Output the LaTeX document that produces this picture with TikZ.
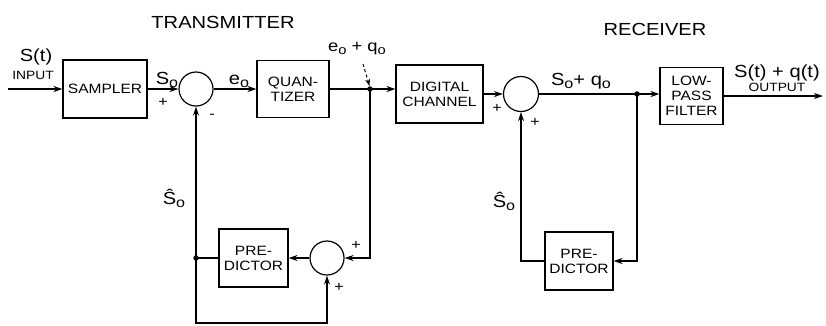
\documentclass[tikz,border=0pt]{standalone}
\usepackage{fontspec}
\usepackage{graphicx}
\setmainfont{Liberation Sans}[FakeStretch=1.15]
\usetikzlibrary{arrows.meta}
\newcommand{\sbs}[1]{\raisebox{-3pt}{\scalebox{0.8}{#1}}}
\begin{document}
\begin{tikzpicture}[x=1pt,y=-1pt,
  blk/.style={draw, line width=1.1pt, align=center, inner sep=1pt,
    font=\fontsize{13.5}{15}\selectfont},
  sum/.style={circle, draw, line width=1.2pt, minimum size=34pt, inner sep=0pt},
  sig/.style={line width=1.9pt},
  arr/.style={sig, -{Stealth[length=9pt,width=6pt]}},
  dasharr/.style={line width=1pt, dash pattern=on 3pt off 2.5pt, -{Stealth[length=7pt,width=5pt]}},
  lab/.style={font=\fontsize{17.5}{19}\selectfont, inner sep=0pt},
  midlab/.style={font=\fontsize{16}{18}\selectfont, inner sep=0pt},
  small/.style={font=\fontsize{12}{13}\selectfont, inner sep=0pt},
  pm/.style={font=\fontsize{14}{16}\selectfont, inner sep=0pt},
  ttl/.style={font=\fontsize{17.5}{19}\selectfont, inner sep=0pt},
  jdot/.style={circle, fill, inner sep=0pt, minimum size=5.5pt}]
\path[use as bounding box] (0,0) rectangle (826,325);
% blocks
\node[blk, minimum width=84pt, minimum height=58pt] (samp) at (105,89) {SAMPLER};
\node[sum] (c1) at (196,89) {};
\node[blk, minimum width=72pt, minimum height=57pt] (quant) at (293,89) {QUAN-\\TIZER};
\coordinate (j1) at (370,89);
\node[blk, minimum width=87pt, minimum height=58pt] (chan) at (439.5,94) {DIGITAL\\CHANNEL};
\node[sum, minimum size=35pt] (c2) at (521,94) {};
\coordinate (j2) at (637,94);
\node[blk, minimum width=63pt, minimum height=57pt] (lpf) at (691.5,96) {LOW-\\PASS\\FILTER};
\coordinate (in) at (8,89);
\coordinate (out) at (823,96);
\node[blk, minimum width=69pt, minimum height=58pt] (pred1) at (253.5,258) {PRE-\\DICTOR};
\node[sum] (c3) at (327,258) {};
\coordinate (jL) at (196,258);
\coordinate (bl) at (196,323);
\node[blk, minimum width=68pt, minimum height=58pt] (pred2) at (579,261) {PRE-\\DICTOR};
% forward path
\draw[arr] (in) -- (samp.west);
\draw[arr] (samp) -- (c1);
\draw[arr] (c1) -- (quant);
\draw[arr] (quant.east) -- (quant.east -| chan.west);
\draw[arr] (chan) -- (c2);
\draw[arr] (c2) -- (c2 -| lpf.west);
\draw[arr] (lpf) -- (out);
% transmitter feedback
\draw[arr] (j1) |- (c3.east);
\draw[arr] (c3) -- (pred1);
\draw[sig] (pred1) -- (jL);
\draw[arr] (jL) -- (c1.south);
\draw[arr] (jL) -- (bl) -| (c3.south);
% receiver feedback
\draw[arr] (pred2.west) -| (c2.south);
\draw[arr] (j2) |- (pred2.east);
% junction dots
\node[jdot] (d1) at (j1) {};
\node[jdot] (d2) at (j2) {};
\node[jdot] (d3) at (jL) {};
% labels
\node[ttl] (tt) at (223,22) {TRANSMITTER};
\node[ttl] (tr) at (655,29) {RECEIVER};
\node[lab] (lst) at (36,57) {S(t)};
\node[small] (lin) at (33,75) {INPUT};
\node[lab] (ls0) at (167,80) {S\sbs{o}};
\node[pm] (p1) at (163,102) {+};
\node[pm] (m1) at (212,116) {-};
\node[lab] (le0) at (239,81) {e\sbs{o}};
\node[midlab] (leq) at (357,49) {e\sbs{o} + q\sbs{o}};
\coordinate (dstart) at (363,64);
\draw[dasharr] (dstart) -- ([xshift=-0.5pt,yshift=3pt]d1.center);
\node[pm] (p2) at (497,108) {+};
\node[pm] (p3) at (535,122) {+};
\node[lab] (lsq) at (581,81) {S\sbs{o}+ q\sbs{o}};
\node[lab] (lout) at (777,73) {S(t) + q(t)};
\node[small] (lo) at (777,87) {OUTPUT};
\node[lab] (lh1) at (174,198) {Ŝ\sbs{o}};
\node[lab] (lh2) at (504,201) {Ŝ\sbs{o}};
\node[pm] (p4) at (356,245) {+};
\node[pm] (p5) at (339,287) {+};
\end{tikzpicture}
\end{document}
